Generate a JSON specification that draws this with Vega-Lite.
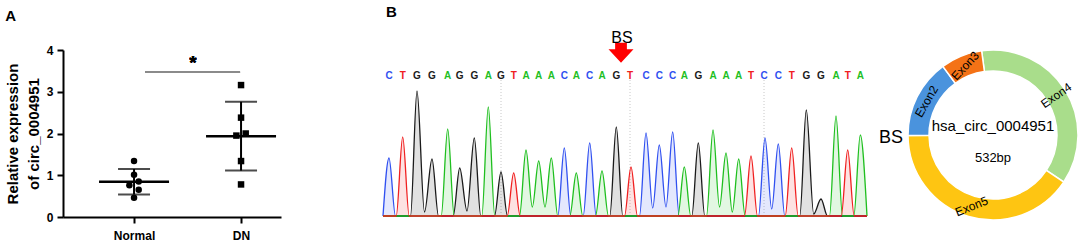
{
  "$schema": "https://vega.github.io/schema/vega-lite/v6.json",
  "background": "white",
  "padding": {"left": 5, "top": 5, "right": 0, "bottom": 0},
  "bounds": "flush",
  "spacing": 41,
  "resolve": {"scale": {"color": "independent"}},
  "config": {"view": {"stroke": null}, "font": "Liberation Sans"},
  "datasets": {
    "expr": [
      {"group": "Normal", "lane": "c", "value": 1.34},
      {"group": "Normal", "lane": "c", "value": 1.01},
      {"group": "Normal", "lane": "l", "value": 0.76},
      {"group": "Normal", "lane": "r", "value": 0.85},
      {"group": "Normal", "lane": "r", "value": 0.65},
      {"group": "Normal", "lane": "c", "value": 0.46},
      {"group": "DN", "lane": "c", "value": 3.16},
      {"group": "DN", "lane": "c", "value": 2.38},
      {"group": "DN", "lane": "l", "value": 1.95},
      {"group": "DN", "lane": "r", "value": 2.0},
      {"group": "DN", "lane": "c", "value": 1.34},
      {"group": "DN", "lane": "c", "value": 0.78}
    ],
    "bases": [
      {"idx": 1, "base": "C", "scan": 6}, {"idx": 2, "base": "T", "scan": 19.7},
      {"idx": 3, "base": "G", "scan": 34}, {"idx": 4, "base": "G", "scan": 49},
      {"idx": 5, "base": "A", "scan": 64.7}, {"idx": 6, "base": "G", "scan": 76.7},
      {"idx": 7, "base": "G", "scan": 91.3}, {"idx": 8, "base": "A", "scan": 105.3},
      {"idx": 9, "base": "G", "scan": 118}, {"idx": 10, "base": "T", "scan": 130.7},
      {"idx": 11, "base": "A", "scan": 143}, {"idx": 12, "base": "A", "scan": 155.7},
      {"idx": 13, "base": "A", "scan": 168.3}, {"idx": 14, "base": "C", "scan": 181.3},
      {"idx": 15, "base": "A", "scan": 193.3}, {"idx": 16, "base": "C", "scan": 206.7},
      {"idx": 17, "base": "A", "scan": 219}, {"idx": 18, "base": "G", "scan": 233.3},
      {"idx": 19, "base": "T", "scan": 247}, {"idx": 20, "base": "C", "scan": 263},
      {"idx": 21, "base": "C", "scan": 276.3}, {"idx": 22, "base": "C", "scan": 289.7},
      {"idx": 23, "base": "A", "scan": 301.3}, {"idx": 24, "base": "G", "scan": 315.3},
      {"idx": 25, "base": "A", "scan": 330}, {"idx": 26, "base": "A", "scan": 343},
      {"idx": 27, "base": "A", "scan": 355.7}, {"idx": 28, "base": "T", "scan": 368},
      {"idx": 29, "base": "C", "scan": 381}, {"idx": 30, "base": "C", "scan": 395.3},
      {"idx": 31, "base": "T", "scan": 408.7}, {"idx": 32, "base": "G", "scan": 423.3},
      {"idx": 33, "base": "G", "scan": 438}, {"idx": 34, "base": "A", "scan": 453},
      {"idx": 35, "base": "T", "scan": 464.7}, {"idx": 36, "base": "A", "scan": 477.3}
    ],
    "trace": [
      {"base": "C", "scan": 0, "signal": 0}, {"base": "C", "scan": 6, "signal": 58}, {"base": "C", "scan": 12.5, "signal": 0},
      {"base": "C", "scan": 174.8, "signal": 0}, {"base": "C", "scan": 181.3, "signal": 68}, {"base": "C", "scan": 187.8, "signal": 0},
      {"base": "C", "scan": 200.2, "signal": 0}, {"base": "C", "scan": 206.7, "signal": 73}, {"base": "C", "scan": 213.2, "signal": 0},
      {"base": "C", "scan": 256.5, "signal": 0}, {"base": "C", "scan": 263, "signal": 83}, {"base": "C", "scan": 269.7, "signal": 8},
      {"base": "C", "scan": 276.3, "signal": 71}, {"base": "C", "scan": 283, "signal": 9}, {"base": "C", "scan": 289.7, "signal": 84},
      {"base": "C", "scan": 296.2, "signal": 0}, {"base": "C", "scan": 375.5, "signal": 0}, {"base": "C", "scan": 382, "signal": 78},
      {"base": "C", "scan": 388.7, "signal": 7}, {"base": "C", "scan": 395.3, "signal": 72}, {"base": "C", "scan": 401.8, "signal": 0},
      {"base": "C", "scan": 484, "signal": 0},
      {"base": "G", "scan": 0, "signal": 0}, {"base": "G", "scan": 27.5, "signal": 0}, {"base": "G", "scan": 34, "signal": 125},
      {"base": "G", "scan": 41.5, "signal": 4}, {"base": "G", "scan": 49, "signal": 57}, {"base": "G", "scan": 55.5, "signal": 0},
      {"base": "G", "scan": 70.2, "signal": 0}, {"base": "G", "scan": 76.7, "signal": 48}, {"base": "G", "scan": 84, "signal": 5},
      {"base": "G", "scan": 91.3, "signal": 78}, {"base": "G", "scan": 97.8, "signal": 0}, {"base": "G", "scan": 111.5, "signal": 0},
      {"base": "G", "scan": 118, "signal": 44}, {"base": "G", "scan": 124.5, "signal": 0}, {"base": "G", "scan": 226.8, "signal": 0},
      {"base": "G", "scan": 233.3, "signal": 89}, {"base": "G", "scan": 239.8, "signal": 0}, {"base": "G", "scan": 308.8, "signal": 0},
      {"base": "G", "scan": 315.3, "signal": 73}, {"base": "G", "scan": 321.8, "signal": 0}, {"base": "G", "scan": 416.8, "signal": 0},
      {"base": "G", "scan": 423.3, "signal": 106}, {"base": "G", "scan": 430.7, "signal": 2}, {"base": "G", "scan": 438, "signal": 17},
      {"base": "G", "scan": 444.5, "signal": 0}, {"base": "G", "scan": 484, "signal": 0},
      {"base": "A", "scan": 0, "signal": 0}, {"base": "A", "scan": 58.2, "signal": 0}, {"base": "A", "scan": 64.7, "signal": 87},
      {"base": "A", "scan": 71.2, "signal": 0}, {"base": "A", "scan": 98.8, "signal": 0}, {"base": "A", "scan": 105.3, "signal": 109},
      {"base": "A", "scan": 111.8, "signal": 0}, {"base": "A", "scan": 136.5, "signal": 0}, {"base": "A", "scan": 143, "signal": 66},
      {"base": "A", "scan": 149.3, "signal": 9}, {"base": "A", "scan": 155.7, "signal": 55}, {"base": "A", "scan": 162, "signal": 9},
      {"base": "A", "scan": 168.3, "signal": 58}, {"base": "A", "scan": 174.8, "signal": 0}, {"base": "A", "scan": 186.8, "signal": 0},
      {"base": "A", "scan": 193.3, "signal": 43}, {"base": "A", "scan": 199.8, "signal": 0}, {"base": "A", "scan": 212.5, "signal": 0},
      {"base": "A", "scan": 219, "signal": 45}, {"base": "A", "scan": 225.5, "signal": 0}, {"base": "A", "scan": 294.8, "signal": 0},
      {"base": "A", "scan": 301.3, "signal": 49}, {"base": "A", "scan": 307.8, "signal": 0}, {"base": "A", "scan": 323.5, "signal": 0},
      {"base": "A", "scan": 330, "signal": 86}, {"base": "A", "scan": 336.5, "signal": 9}, {"base": "A", "scan": 343, "signal": 63},
      {"base": "A", "scan": 349.3, "signal": 4}, {"base": "A", "scan": 355.7, "signal": 57}, {"base": "A", "scan": 362.2, "signal": 0},
      {"base": "A", "scan": 446.5, "signal": 0}, {"base": "A", "scan": 453, "signal": 100}, {"base": "A", "scan": 459.5, "signal": 0},
      {"base": "A", "scan": 470.8, "signal": 0}, {"base": "A", "scan": 477.3, "signal": 81}, {"base": "A", "scan": 484, "signal": 0},
      {"base": "T", "scan": 0, "signal": 0}, {"base": "T", "scan": 13.2, "signal": 0}, {"base": "T", "scan": 19.7, "signal": 79},
      {"base": "T", "scan": 26.2, "signal": 0}, {"base": "T", "scan": 124.2, "signal": 0}, {"base": "T", "scan": 130.7, "signal": 43},
      {"base": "T", "scan": 137.2, "signal": 0}, {"base": "T", "scan": 241.5, "signal": 0}, {"base": "T", "scan": 248, "signal": 49},
      {"base": "T", "scan": 254.5, "signal": 0}, {"base": "T", "scan": 361.5, "signal": 0}, {"base": "T", "scan": 368, "signal": 60},
      {"base": "T", "scan": 374.5, "signal": 0}, {"base": "T", "scan": 402.2, "signal": 0}, {"base": "T", "scan": 408.7, "signal": 68},
      {"base": "T", "scan": 415.2, "signal": 0}, {"base": "T", "scan": 458.2, "signal": 0}, {"base": "T", "scan": 464.7, "signal": 66},
      {"base": "T", "scan": 471.2, "signal": 0}, {"base": "T", "scan": 484, "signal": 0}
    ],
    "exons": [
      {"exon": "Exon4", "bp": 194, "order": 1},
      {"exon": "Exon5", "bp": 216, "order": 2},
      {"exon": "Exon2", "bp": 80, "order": 3},
      {"exon": "Exon3", "bp": 42, "order": 4}
    ]
  },
  "hconcat": [
    {
      "width": 218,
      "height": 167,
      "title": {"text": "A", "anchor": "start", "frame": "bounds", "fontSize": 15, "fontWeight": "bold", "offset": 20, "color": "black"},
      "data": {"name": "expr"},
      "encoding": {
        "x": {"field": "group", "type": "nominal", "sort": null,
          "scale": {"type": "point", "domain": ["Normal", "DN"], "padding": 0.5187, "align": 0.64},
          "axis": {"title": null, "labelAngle": 0, "labelFontSize": 12, "labelFontWeight": "bold", "labelColor": "black", "domainColor": "black", "domainWidth": 2, "tickColor": "black", "tickWidth": 2, "tickSize": 6, "labelPadding": 7, "grid": false}},
        "y": {"field": "value", "type": "quantitative",
          "scale": {"domain": [0, 4], "nice": false},
          "axis": {"values": [0, 1, 2, 3, 4], "title": ["Relative expression", "of circ_0004951"], "titleFontSize": 15, "titleFontWeight": "bold", "titleColor": "black", "titleLineHeight": 21, "titlePadding": 5, "labelFontSize": 12, "labelFontWeight": "bold", "labelColor": "black", "domainColor": "black", "domainWidth": 2, "tickColor": "black", "tickWidth": 2, "tickSize": 6, "labelPadding": 4, "grid": false}}
      },
      "layer": [
        {
          "mark": {"type": "point", "filled": true, "color": "black", "size": 42, "opacity": 1},
          "encoding": {
            "xOffset": {"field": "lane", "type": "nominal", "scale": {"type": "point", "domain": ["l", "c", "r"], "range": [-7, 7]}},
            "shape": {"field": "group", "type": "nominal", "scale": {"domain": ["Normal", "DN"], "range": ["circle", "square"]}, "legend": null}
          }
        },
        {
          "mark": {"type": "tick", "color": "black", "thickness": 2.5, "size": 70},
          "encoding": {"y": {"aggregate": "mean", "field": "value", "type": "quantitative"}}
        },
        {
          "mark": {"type": "errorbar", "extent": "stdev", "color": "black", "thickness": 2, "ticks": {"size": 32, "thickness": 2, "color": "black"}, "rule": {"strokeWidth": 2}}
        },
        {
          "mark": {"type": "rule", "color": "#8a8a8a", "strokeWidth": 0.8, "xOffset": 11, "x2Offset": -1},
          "encoding": {"x": {"datum": "Normal"}, "x2": {"datum": "DN"}, "y": {"datum": 3.47}}
        },
        {
          "mark": {"type": "text", "text": "*", "fontSize": 19, "fontWeight": "bold", "color": "black", "dx": -48, "baseline": "middle", "opacity": 0.35},
          "encoding": {"x": {"datum": "DN"}, "y": {"datum": 3.69}}
        }
      ]
    },
    {
      "width": 545,
      "height": 166,
      "title": {"text": "B", "anchor": "start", "frame": "group", "dx": 64, "fontSize": 15, "fontWeight": "bold", "offset": 10, "color": "black"},
      "encoding": {
        "x": {"type": "quantitative", "scale": {"domain": [-61, 484], "nice": false, "zero": false}, "axis": null},
        "y": {"type": "quantitative", "scale": {"domain": [0, 166], "nice": false, "zero": false}, "axis": null}
      },
      "layer": [
        {
          "data": {"name": "bases"},
          "transform": [{"filter": {"field": "idx", "oneOf": [9, 19, 29]}}],
          "mark": {"type": "rule", "color": "#c8c8c8", "strokeWidth": 1, "strokeDash": [1, 2]},
          "encoding": {"x": {"field": "scan", "type": "quantitative"}, "y": {"datum": 0}, "y2": {"datum": 136}}
        },
        {
          "data": {"name": "trace"},
          "mark": {"type": "area", "interpolate": "monotone", "fillOpacity": 0.13},
          "encoding": {
            "x": {"field": "scan", "type": "quantitative"},
            "y": {"field": "signal", "type": "quantitative", "stack": null},
            "color": {"field": "base", "type": "nominal", "scale": {"domain": ["A", "C", "G", "T"], "range": ["#1fbf1f", "#3050f0", "#1a1a1a", "#f02020"]}, "legend": null}
          }
        },
        {
          "data": {"name": "trace"},
          "mark": {"type": "line", "interpolate": "monotone", "strokeWidth": 1.3},
          "encoding": {
            "x": {"field": "scan", "type": "quantitative"},
            "y": {"field": "signal", "type": "quantitative"},
            "color": {"field": "base", "type": "nominal", "legend": null}
          }
        },
        {
          "data": {"name": "bases"},
          "mark": {"type": "text", "fontSize": 10, "fontWeight": "bold", "baseline": "middle"},
          "encoding": {
            "x": {"field": "scan", "type": "quantitative"},
            "y": {"datum": 140.5},
            "text": {"field": "base"},
            "color": {"field": "base", "type": "nominal", "legend": null}
          }
        },
        {
          "data": {"values": [{"label": "BS"}]},
          "mark": {"type": "point", "shape": "M-0.47,-0.8L0.47,-0.8L0.47,-0.27L1,-0.27L0,0.8L-1,-0.27L-0.47,-0.27Z", "size": 625, "filled": true, "color": "#ff0000", "opacity": 1, "strokeWidth": 0},
          "encoding": {"x": {"datum": 238}, "y": {"datum": 163.3}}
        },
        {
          "data": {"values": [{"label": "BS"}]},
          "mark": {"type": "text", "fontSize": 16, "color": "black", "baseline": "middle"},
          "encoding": {"x": {"datum": 239}, "y": {"datum": 178}, "text": {"field": "label"}}
        }
      ]
    },
    {
      "width": 170,
      "height": 170,
      "layer": [
        {
          "data": {"name": "exons"},
          "encoding": {
            "theta": {"field": "bp", "type": "quantitative", "stack": true, "scale": {"range": [-0.1344, 6.1488]}},
            "order": {"field": "order", "type": "quantitative"}
          },
          "layer": [
            {
              "mark": {"type": "arc", "outerRadius": 85, "innerRadius": 64, "stroke": "white", "strokeWidth": 1.5},
              "encoding": {
                "color": {"field": "exon", "type": "nominal", "scale": {"domain": ["Exon2", "Exon3", "Exon4", "Exon5"], "range": ["#4a93dd", "#f47216", "#a9dd8b", "#fec512"]}, "legend": null}
              }
            },
            {
              "mark": {"type": "text", "radius": 74.5, "fontSize": 12, "color": "black", "baseline": "middle"},
              "encoding": {
                "detail": {"field": "exon"},
                "text": {"field": "exon"},
                "angle": {"field": "exon", "type": "nominal", "scale": {"domain": ["Exon2", "Exon3", "Exon4", "Exon5"], "range": [-60, -22, 57, 6]}, "legend": null}
              }
            }
          ]
        },
        {
          "data": {"values": [{"name": "hsa_circ_0004951", "length": "532bp", "site": "BS"}]},
          "layer": [
            {"mark": {"type": "text", "fontSize": 15, "color": "black", "dy": -9, "baseline": "middle"}, "encoding": {"text": {"field": "name"}}},
            {"mark": {"type": "text", "fontSize": 13, "color": "black", "dy": 23, "baseline": "middle"}, "encoding": {"text": {"field": "length"}}},
            {"mark": {"type": "text", "fontSize": 18, "color": "black", "dx": -90, "dy": 3, "align": "right", "baseline": "middle"}, "encoding": {"text": {"field": "site"}}}
          ]
        }
      ]
    }
  ]
}
